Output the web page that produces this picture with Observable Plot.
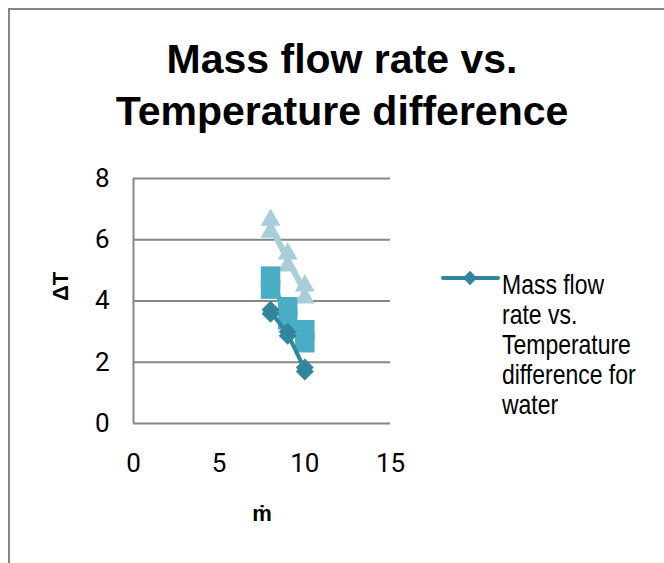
<!DOCTYPE html>
<html>
<head>
<meta charset="utf-8">
<script src="https://cdn.jsdelivr.net/npm/d3@7"></script>
<script src="https://cdn.jsdelivr.net/npm/@observablehq/plot@0.6"></script>
<style>
  html, body { margin: 0; padding: 0; background: #fff; }
  #chart { position: relative; width: 664px; height: 563px; overflow: hidden; background: #fff; }
  #frame { position: absolute; left: 8px; top: 8px; width: 720px; height: 620px; border: 2px solid #868686; box-sizing: border-box; }
  #title { position: absolute; left: 10px; top: 33px; width: 664px; text-align: center;
           font-family: "Liberation Sans", Arial, sans-serif; font-weight: bold; font-size: 41px; line-height: 52px; color: #000; }
  #plot { position: absolute; left: 0; top: 0; }
  #legend { position: absolute; left: 440px; top: 262px; }
  #legend svg { position: absolute; left: 0; top: 0; }
  #legend .txt { position: absolute; left: 62px; top: 8px; width: 180px;
                 transform: scaleX(0.82); transform-origin: 0 0;
                 font-family: "Liberation Sans", Arial, sans-serif; font-size: 28px; line-height: 30px; color: #000; }
</style>
</head>
<body>
<div id="chart">
  <div id="frame"></div>
  <div id="plot"></div>
  <div id="title"></div>
  <div id="legend"></div>
</div>
<script>
// ---- data ----
const titleLines = ["Mass flow rate vs.", "Temperature difference"];
const xLabel = "ṁ";
const yLabel = "ΔT";
const legendLabel = "Mass flow rate vs. Temperature difference for water";
const xTicks = [0, 5, 10, 15];
const yTicks = [0, 2, 4, 6, 8];
const massFlow = [8, 9, 10];
const dTwater = [3.65, 2.93, 1.76];      // diamonds
const dTseries2 = [4.6, 3.6, 2.85];      // squares
const dTseries3 = [6.45, 5.35, 4.3];     // triangles

const cDiamond = "#31859C";
const cSquare = "#4BACC6";
const cTriangle = "#A8CEDA";

const toRows = (ys) => massFlow.map((x, i) => ({x, y: ys[i]}));
const water = toRows(dTwater);
const s2 = toRows(dTseries2);
const s3 = toRows(dTseries3);

document.getElementById("title").innerHTML = titleLines.join("<br>");

const tickFont = {fontSize: 26, fontFamily: "Roboto, sans-serif"};

const plot = Plot.plot({
  width: 664,
  height: 563,
  marginLeft: 133,
  marginRight: 274,
  marginTop: 178,
  marginBottom: 140,
  x: {domain: [0, 15]},
  y: {domain: [0, 8]},
  style: {fontFamily: "Roboto, sans-serif", fontSize: "26px", background: "transparent", color: "#000", overflow: "visible"},
  marks: [
    Plot.gridY(yTicks, {stroke: "#868686", strokeOpacity: 1, strokeWidth: 2}),
    Plot.ruleX([0], {stroke: "#868686", strokeWidth: 2}),
    Plot.axisX(xTicks, {tickSize: 0, tickPadding: 30, label: null, ...tickFont}),
    Plot.axisY(yTicks, {tickSize: 0, tickPadding: 24, label: null, ...tickFont}),
    Plot.text([yLabel], {frameAnchor: "left", dx: -73, rotate: -90, fontWeight: "bold", fontSize: 22, fontFamily: "Liberation Sans, sans-serif"}),
    Plot.text([xLabel], {frameAnchor: "bottom", dy: 97, fontWeight: "bold", fontSize: 22, fontFamily: "Liberation Sans, sans-serif"}),
    // triangles series
    Plot.line(s3, {x: "x", y: "y", stroke: cTriangle, strokeWidth: 6}),
    Plot.dot(s3, {x: "x", y: "y", symbol: d3.symbolTriangle, r: 7.4, fill: cTriangle, dy: -6}),
    Plot.dot(s3, {x: "x", y: "y", symbol: d3.symbolTriangle, r: 7.4, fill: cTriangle, dy: 6}),
    // squares series
    Plot.line(s2, {x: "x", y: "y", stroke: cSquare, strokeWidth: 5}),
    Plot.dot(s2, {x: "x", y: "y", symbol: d3.symbolSquare, r: 11, fill: cSquare, dy: -6.5}),
    Plot.dot(s2, {x: "x", y: "y", symbol: d3.symbolSquare, r: 11, fill: cSquare, dy: 6.5}),
    // diamonds series (water)
    Plot.line(water, {x: "x", y: "y", stroke: cDiamond, strokeWidth: 4}),
    Plot.dot(water, {x: "x", y: "y", symbol: d3.symbolDiamond2, r: 8.1, fill: cDiamond, dy: -2}),
    Plot.dot(water, {x: "x", y: "y", symbol: d3.symbolDiamond2, r: 8.1, fill: cDiamond, dy: 2})
  ]
});
document.getElementById("plot").appendChild(plot);

// legend
const leg = document.getElementById("legend");
const sw = d3.create("svg").attr("width", 62).attr("height", 34);
sw.append("line").attr("x1", 3).attr("x2", 58).attr("y1", 16).attr("y2", 16)
  .attr("stroke", cDiamond).attr("stroke-width", 4).attr("stroke-linecap", "round");
sw.append("path").attr("transform", "translate(30,16)")
  .attr("d", d3.symbol(d3.symbolDiamond2, 130)()).attr("fill", cDiamond);
leg.appendChild(sw.node());
const txt = document.createElement("div");
txt.className = "txt";
txt.textContent = legendLabel;
leg.appendChild(txt);
</script>
</body>
</html>
